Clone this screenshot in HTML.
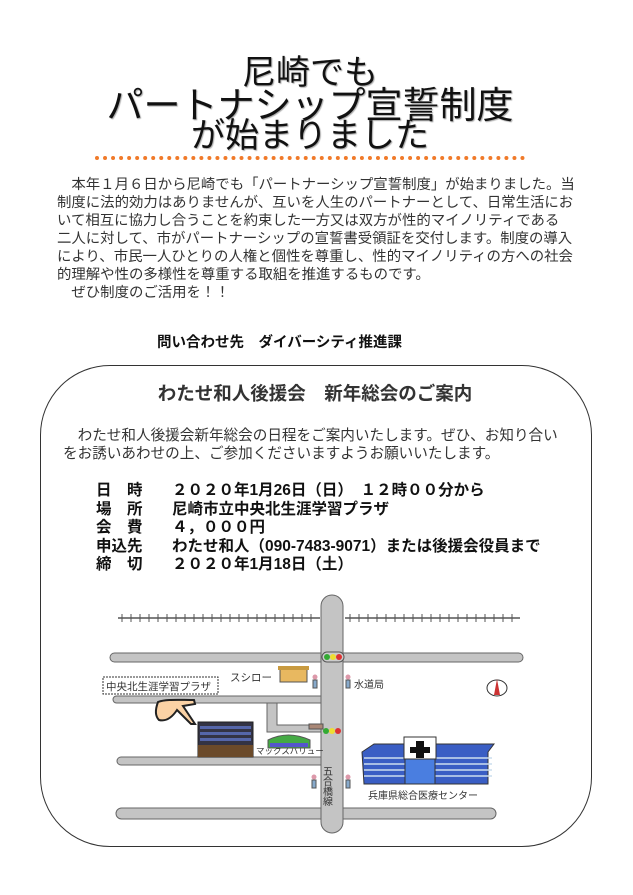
<!DOCTYPE html>
<html><head><meta charset="utf-8"><style>
body{margin:0;width:633px;height:895px;background:#fff;position:relative;overflow:hidden;font-family:"Liberation Sans","Noto Sans CJK JP",sans-serif;color:#222}
.a{position:absolute;white-space:nowrap}
.t{left:0;width:620px;text-align:center;font-size:34px;line-height:31px;color:#111;text-shadow:1px 1px 1px #aaa}
.p{font-size:14.4px;line-height:18px;left:57px;color:#333}
.r{font-size:15.5px;font-weight:bold;color:#111}
</style></head><body>
<div class="a t" style="top:58px;font-size:34px">尼崎でも</div>
<div class="a t" style="top:90px;font-size:37px">パートナシップ宣誓制度</div>
<div class="a t" style="top:121px;font-size:34px">が始まりました</div>
<div class="a" style="left:95px;top:156px;width:430px;border-top:4px dotted #f07a2a"></div>
<div class="a p" style="top:176px">　本年１月６日から尼崎でも「パートナーシップ宣誓制度」が始まりました。当<br>制度に法的効力はありませんが、互いを人生のパートナーとして、日常生活にお<br>いて相互に協力し合うことを約束した一方又は双方が性的マイノリティである<br>二人に対して、市がパートナーシップの宣誓書受領証を交付します。制度の導入<br>により、市民一人ひとりの人権と個性を尊重し、性的マイノリティの方への社会<br>的理解や性の多様性を尊重する取組を推進するものです。<br>　ぜひ制度のご活用を！！</div>
<div class="a" style="left:157px;top:331px;font-size:14.5px;font-weight:bold;color:#111">問い合わせ先　ダイバーシティ推進課</div>
<div class="a" style="left:40px;top:365px;width:550px;height:480px;border:1px solid #333;border-radius:70px"></div>
<div class="a" style="left:0;width:630px;text-align:center;top:380px;font-size:18.5px;font-weight:bold;color:#333">わたせ和人後援会　新年総会のご案内</div>
<div class="a" style="left:63px;top:427px;font-size:14.6px;line-height:18px;color:#333">　わたせ和人後援会新年総会の日程をご案内いたします。ぜひ、お知り合い<br>をお誘いあわせの上、ご参加くださいますようお願いいたします。</div>
<div class="a r" style="left:96px;top:482px;line-height:18.5px">日　時<br>場　所<br>会　費<br>申込先<br>締　切</div>
<div class="a r" style="left:172px;top:482px;line-height:18.5px">２０２０年1月26日（日）　１２時００分から<br>尼崎市立中央北生涯学習プラザ<br>４，０００円<br>わたせ和人（090-7483-9071）または後援会役員まで<br>２０２０年1月18日（土）</div>
<svg class="a" style="left:0;top:0" width="633" height="895">
<g stroke="#555" stroke-width="1.5">
<line x1="118" y1="618" x2="320" y2="618"/><line x1="345" y1="618" x2="520" y2="618"/>
</g>
<g stroke="#555" stroke-width="1">
<path d="M122 614v8M131 614v8M140 614v8M149 614v8M158 614v8M167 614v8M176 614v8M185 614v8M194 614v8M203 614v8M212 614v8M221 614v8M230 614v8M239 614v8M248 614v8M257 614v8M266 614v8M275 614v8M284 614v8M293 614v8M302 614v8M311 614v8M350 614v8M359 614v8M368 614v8M377 614v8M386 614v8M395 614v8M404 614v8M413 614v8M422 614v8M431 614v8M440 614v8M449 614v8M458 614v8M467 614v8M476 614v8M485 614v8M494 614v8M503 614v8M512 614v8"/>
</g>
<g fill="#c4c4c4" stroke="#666" stroke-width="1">
<rect x="110" y="653" width="413" height="9" rx="4.5"/>
<rect x="113" y="696" width="215" height="7" rx="3.5"/>
<rect x="117" y="757" width="210" height="8" rx="4"/>
<rect x="116" y="808" width="380" height="11" rx="5.5"/>
<path d="M267 703h10v22h50v7h-60z"/>
<rect x="321" y="595" width="22" height="238" rx="11"/>
</g>
<g fill="#c4c4c4"><rect x="322" y="652" width="20" height="12"/><rect x="322" y="695" width="20" height="9"/><rect x="322" y="724" width="20" height="9"/><rect x="322" y="756" width="20" height="10"/><rect x="322" y="807" width="20" height="13"/></g>
<rect x="322" y="652" width="22" height="10" rx="5" fill="#ccc" stroke="#555"/>
<circle cx="327" cy="657" r="3" fill="#3a3"/><circle cx="333" cy="657" r="3" fill="#ed3"/><circle cx="339" cy="657" r="3" fill="#d33"/>
<circle cx="326" cy="731" r="3" fill="#3a3"/><circle cx="332" cy="731" r="3" fill="#ed3"/><circle cx="338" cy="731" r="3" fill="#d33"/>
<rect x="103" y="677" width="115" height="17" fill="#fff" stroke="#333" stroke-dasharray="2,1"/>
<g font-family="Liberation Sans,Noto Sans CJK JP,sans-serif" fill="#333">
<text x="106" y="690" font-size="10.5">中央北生涯学習プラザ</text>
<text x="230" y="681" font-size="10.5">スシロー</text>
<text x="354" y="688" font-size="10">水道局</text>
<text x="256" y="754" font-size="8.5">マックスバリュー</text>
<text x="368" y="799" font-size="10">兵庫県総合医療センター</text>
<text x="326" y="766" font-size="10" writing-mode="tb">五合橋線</text>
</g>
<rect x="280" y="668" width="27" height="14" fill="#e8b860" stroke="#555"/><rect x="278" y="666" width="31" height="4" fill="#c89a40"/>
<g fill="#88aacc" stroke="#555"><rect x="313" y="680" width="4" height="8"/><rect x="346" y="680" width="4" height="8"/><rect x="312" y="780" width="4" height="8"/><rect x="346" y="780" width="4" height="8"/></g>
<g fill="#d9a"><circle cx="315" cy="677" r="2.5"/><circle cx="348" cy="677" r="2.5"/><circle cx="314" cy="777" r="2.5"/><circle cx="348" cy="777" r="2.5"/></g>
<ellipse cx="497" cy="688" rx="10" ry="8" fill="#fff" stroke="#333"/><path d="M497 679l-3 16h6z" fill="#c33"/>
<path d="M158 702c8-3 20-2 36-2l1 4-12 2 12 18h-4l-14-14c-4 6-10 12-18 10-4-4-4-10-1-18z" fill="#fbd2a5" stroke="#222" stroke-width="2"/>
<rect x="198" y="722" width="55" height="35" fill="#334" stroke="#222"/>
<g fill="#5566aa"><rect x="200" y="726" width="51" height="3"/><rect x="200" y="732" width="51" height="3"/><rect x="200" y="738" width="51" height="3"/></g>
<rect x="198" y="745" width="55" height="12" fill="#6b4a2a"/>
<path d="M268 740q20-10 42 0v8h-42z" fill="#4a4" stroke="#555"/><rect x="270" y="743" width="38" height="4" fill="#55c"/>
<rect x="309" y="724" width="14" height="5" fill="#a87" stroke="#555"/>
<g stroke="#333" fill="#3a5ec4">
<path d="M362 752l12-8h120l-6 8v32h-124z"/>
</g>
<g stroke="#cde" stroke-width="1.5"><line x1="364" y1="758" x2="492" y2="758"/><line x1="364" y1="764" x2="492" y2="764"/><line x1="364" y1="770" x2="492" y2="770"/><line x1="364" y1="776" x2="492" y2="776"/></g>
<rect x="405" y="748" width="30" height="36" fill="#4a7ee0" stroke="#333"/>
<rect x="404" y="737" width="32" height="22" fill="#fff" stroke="#333"/>
<path d="M416 741h8v6h6v6h-6v5h-8v-5h-6v-6h6z" fill="#111"/>
</svg>
</body></html>
